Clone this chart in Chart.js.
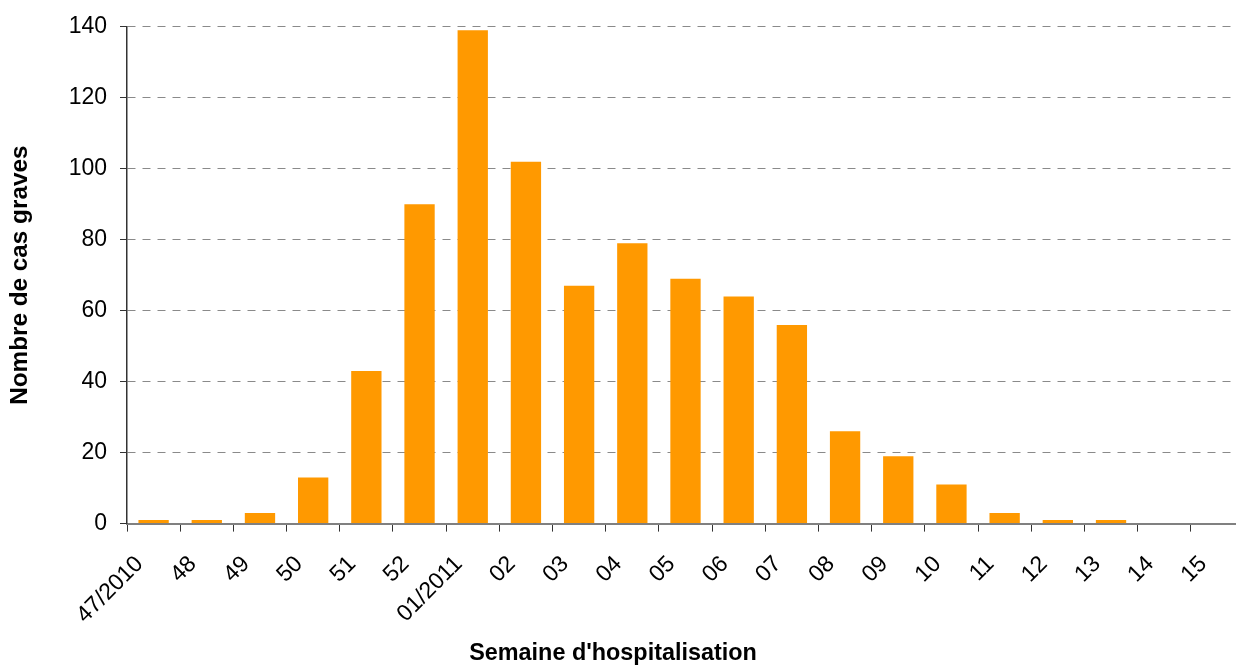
<!DOCTYPE html>
<html lang="fr">
<head>
<meta charset="utf-8">
<title>Cas graves par semaine d'hospitalisation</title>
<script src="https://cdn.jsdelivr.net/npm/chart.js@4/dist/chart.umd.min.js"></script>
<style>
  html, body { margin: 0; padding: 0; background: #ffffff; overflow: hidden; }
  body { width: 1236px; height: 665px; position: relative; }
  #wrap { position: absolute; left: -18px; top: 0; width: 1262px; height: 665px; }
</style>
</head>
<body>
<div id="wrap"><canvas id="chart" width="1262" height="665"></canvas></div>
<script>
// Weeks of hospitalisation (winter 2010-2011)
const weeks = ['47/2010', '48', '49', '50', '51', '52', '01/2011', '02', '03', '04', '05',
               '06', '07', '08', '09', '10', '11', '12', '13', '14', '15'];

// Number of severe cases per week
const severeCases = [1, 1, 3, 13, 43, 90, 139, 102, 67, 79, 69,
                     64, 56, 26, 19, 11, 3, 1, 1, 0, 0];

// Value axis ticks
const yTicks = [0, 20, 40, 60, 80, 100, 120, 140];

const yTitle = 'Nombre de cas graves';
const xTitle = "Semaine d'hospitalisation";

const FONT = '"Liberation Sans", Arial, sans-serif';

new Chart(document.getElementById('chart'), {
  type: 'bar',
  data: {
    labels: weeks,
    datasets: [{
      data: severeCases,
      backgroundColor: '#FF9900',
      borderWidth: 0,
      barPercentage: 0.57,
      categoryPercentage: 1.0
    }]
  },
  options: {
    responsive: false,
    animation: false,
    devicePixelRatio: 1,
    layout: { padding: { top: 26, right: 0, bottom: 0, left: 0 } },
    plugins: {
      legend: { display: false },
      tooltip: { enabled: false },
      title: {
        display: true,
        position: 'bottom',
        text: xTitle,
        color: '#000000',
        font: { family: FONT, size: 23.4, weight: 'bold', lineHeight: 1.0 },
        padding: { top: 0, bottom: 0 }
      }
    },
    scales: {
      x: {
        type: 'category',
        offset: true,
        afterFit: (scale) => {
          // fixed band height; the plot runs right up to the edge
          scale.height = 118;
          scale.paddingLeft = 0;
          scale.paddingRight = 0;
        },
        grid: {
          offset: true,
          drawOnChartArea: false,
          drawTicks: true,
          tickLength: 8,
          tickColor: '#333333',
          tickWidth: 1
        },
        border: { display: true, color: '#808080', width: 2 },
        ticks: {
          autoSkip: false,
          minRotation: 45,
          maxRotation: 45,
          padding: 19,
          labelOffset: -14,
          color: '#000000',
          font: { family: FONT, size: 23 }
        }
      },
      y: {
        min: 0,
        max: 140,
        afterFit: (scale) => { scale.width = 145; },
        afterBuildTicks: (scale) => { scale.ticks = yTicks.map(v => ({ value: v })); },
        grid: {
          color: '#8a8a8a',
          lineWidth: 1,
          drawTicks: true,
          tickLength: 7,
          tickColor: '#333333',
          tickWidth: 1,
          tickBorderDash: []
        },
        border: { display: true, color: '#333333', width: 1.5, dash: [8, 7] },
        ticks: {
          padding: 13,
          color: '#000000',
          font: { family: FONT, size: 23 }
        },
        title: {
          display: true,
          text: yTitle,
          color: '#000000',
          font: { family: FONT, size: 24.3, weight: 'bold', lineHeight: 1.2 },
          padding: { top: 23.5, bottom: 0 }
        }
      }
    }
  }
});
</script>
</body>
</html>
